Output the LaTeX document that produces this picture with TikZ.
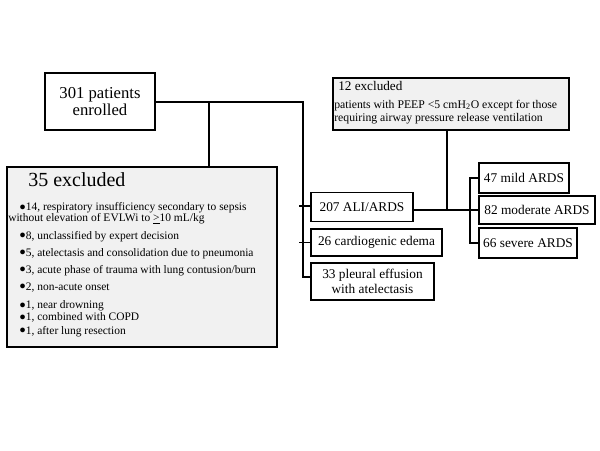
\documentclass[tikz,border=0pt]{standalone}
\usepackage{fontspec}
\setmainfont{Liberation Serif}
\definecolor{boxgray}{HTML}{F1F1F1}
\newcommand\mybul{\raisebox{0.05ex}{\scalebox{0.95}{●}}}
\begin{document}
\begin{tikzpicture}[x=0.75pt,y=-0.75pt,
  box/.style={draw, line width=1.1pt, inner sep=0pt, align=center, font=\fontsize{10}{11.5}\selectfont},
  graybox/.style={draw, line width=1.2pt, fill=boxgray, inner sep=0pt},
  conn/.style={line width=1.4pt},
  txt/.style={anchor=base west, inner sep=0pt, font=\fontsize{8.6}{10}\selectfont}]
\useasboundingbox (0,0) rectangle (600,450);

% boxes
\node[box, minimum width=82.5pt, minimum height=42.75pt, font=\fontsize{12.5}{12.75}\selectfont] (n301) at (100,101.5) {301 patients\\enrolled};
\node[graybox, minimum width=202.5pt, minimum height=135pt] (n35) at (142,257) {};
\node[graybox, minimum width=177pt, minimum height=39pt] (n12) at (451,104) {};
\node[box, minimum width=76.5pt, minimum height=21.75pt] (n207) at (362,207) {207 ALI/ARDS};
\node[box, minimum width=98.25pt, minimum height=20.25pt] (n26) at (376.5,242.5) {26 cardiogenic edema};
\node[box, minimum width=92.25pt, minimum height=27.75pt] (n33) at (372.5,281.5) {33 pleural effusion\\with atelectasis};
\node[box, minimum width=67.5pt, minimum height=22.5pt] (n47) at (524,178) {47 mild ARDS};
\node[box, minimum width=87pt, minimum height=21pt] (n82) at (537,210) {82 moderate ARDS};
\node[box, minimum width=73.5pt, minimum height=22.5pt] (n66) at (528,243) {66 severe ARDS};

% texts of 35 excluded
\node[txt, font=\fontsize{15}{15}\selectfont] (t35) at (28,186.5) {35 excluded};
\node[txt] (b1) at (19,210.5) {\mybul14, respiratory insufficiency secondary to sepsis};
\node[txt] (b1b) at (8,221.5) {without elevation of EVLWi to \underline{>}10 mL/kg};
\node[txt] (b2) at (19,239) {\mybul8, unclassified by expert decision};
\node[txt] (b3) at (19,256) {\mybul5, atelectasis and consolidation due to pneumonia};
\node[txt] (b4) at (19,273) {\mybul3, acute phase of trauma with lung contusion/burn};
\node[txt] (b5) at (19,290) {\mybul2, non-acute onset};
\node[txt] (b6) at (19,308.5) {\mybul1, near drowning};
\node[txt] (b7) at (19,320.5) {\mybul1, combined with COPD};
\node[txt] (b8) at (19,334) {\mybul1, after lung resection};

% texts of 12 excluded
\node[txt, font=\fontsize{9.9}{10}\selectfont] (t12) at (338,90.5) {12 excluded};
\node[txt, font=\fontsize{8.8}{10}\selectfont] (c1) at (334,108.5) {patients with PEEP <5 cmH\textsubscript{2}O except for those};
\node[txt, font=\fontsize{8.8}{10}\selectfont] (c2) at (334,121) {requiring airway pressure release ventilation};

% connectors
\coordinate (v) at (303,102);
\coordinate (j1) at (209,102);
\coordinate (b33) at (303,277);
\coordinate (j12) at (447,210);
\coordinate (j2) at (470,210);
\draw[conn] (n301.east |- v) -- (v) -- (b33) -- (n33.west |- b33);
\draw[conn] (j1) -- (j1 |- n35.north);
\draw[conn] (n207.west |- 0,206) -- (299,206);
\draw[conn] (n26.west) -- (299,242.5);
\draw[conn] (n207.east |- j12) -- (n82.west |- j12);
\draw[conn] (n12.south -| j12) -- (j12);
\draw[conn] (n47.west) -| (j2) |- (n66.west);
\end{tikzpicture}
\end{document}
